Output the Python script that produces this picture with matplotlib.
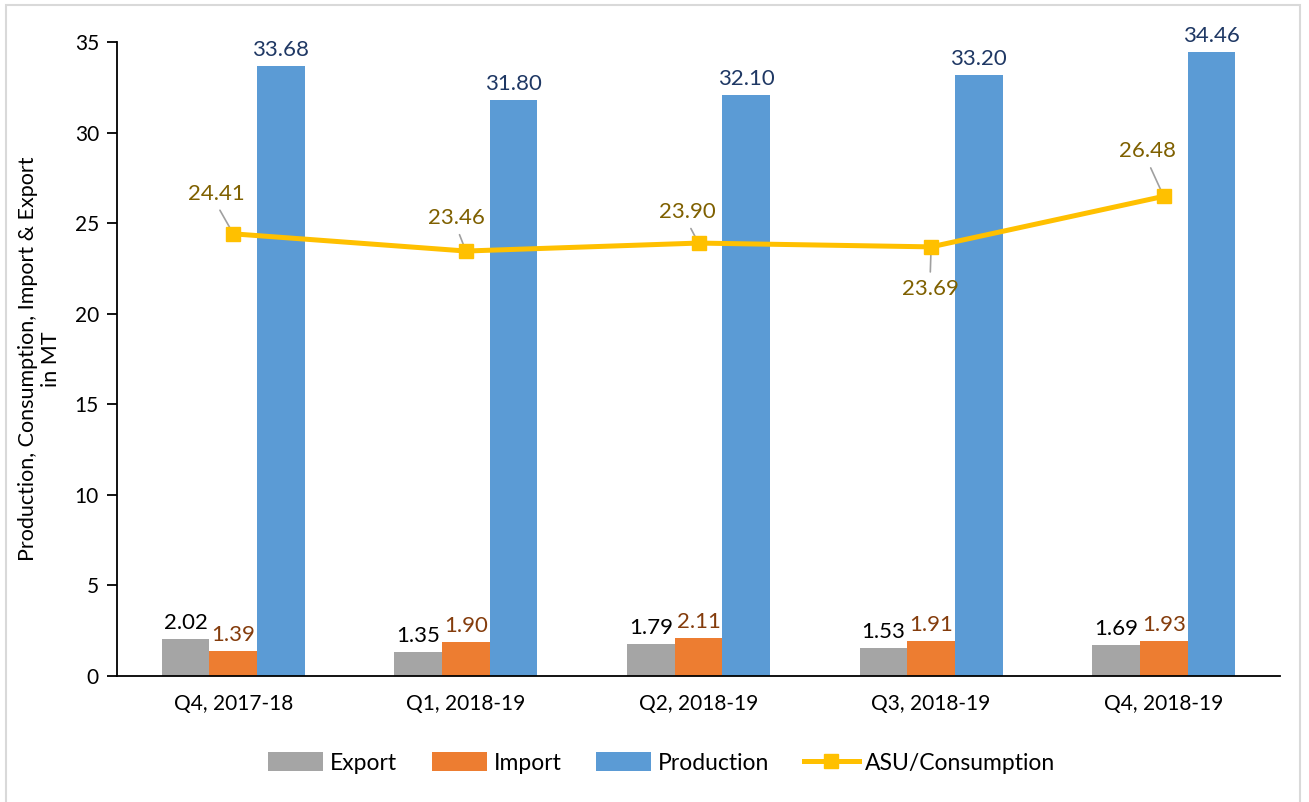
import matplotlib.pyplot as plt
import matplotlib.patches as mpatches
import numpy as np

categories = ["Q4, 2017-18", "Q1, 2018-19", "Q2, 2018-19", "Q3, 2018-19", "Q4, 2018-19"]
export = [2.02, 1.35, 1.79, 1.53, 1.69]
imports = [1.39, 1.90, 2.11, 1.91, 1.93]
production = [33.68, 31.80, 32.10, 33.20, 34.46]
consumption = [24.41, 23.46, 23.90, 23.69, 26.48]
# label offsets (pixels) for consumption labels
cons_offsets = [(-17, 40), (-9, 33), (-11, 31), (-1, -42), (-16, 45)]

plt.rcParams['font.family'] = ['Lato', 'DejaVu Sans']

fig = plt.figure(figsize=(13.09, 8.02), dpi=100)
ax = fig.add_axes([117/1309, 1 - 676/802, (1280-117)/1309, (676-42)/802])

x = np.arange(len(categories))
w = 0.205
c_exp, c_imp, c_prod, c_line = '#A5A5A5', '#ED7D31', '#5B9BD5', '#FFC000'

b1 = ax.bar(x - w, export, w, color=c_exp, label='Export')
b2 = ax.bar(x, imports, w, color=c_imp, label='Import')
b3 = ax.bar(x + w, production, w, color=c_prod, label='Production')
ln, = ax.plot(x, consumption, color=c_line, lw=3.6, marker='s', markersize=10,
              label='ASU/Consumption', zorder=5)

for bars, col in [(b1, 'black'), (b2, '#843C0C'), (b3, '#1F3864')]:
    for b in bars:
        h = b.get_height()
        ax.annotate(f"{h:.2f}", (b.get_x() + b.get_width()/2, h), xytext=(0, 6),
                    textcoords='offset pixels', ha='center', va='bottom',
                    fontsize=16, color=col)

for xi, v, (dx, dy) in zip(x, consumption, cons_offsets):
    rp = (0.5, 0) if dy > 0 else (0.5, 1)
    ax.annotate(f"{v:.2f}", (xi, v), xytext=(dx, dy), textcoords='offset pixels',
                ha='center', va='center', fontsize=16, color='#7F6000', zorder=4,
                arrowprops=dict(arrowstyle='-', color='#A0A0A0', lw=1.2,
                                relpos=rp, shrinkA=3, shrinkB=2))

ax.set_xlim(-0.5, 4.5)
ax.set_ylim(0, 35)
ax.set_yticks(range(0, 36, 5))
ax.set_xticks(x)
ax.set_xticklabels(categories)
ax.tick_params(axis='y', labelsize=15, length=7, width=1.3, pad=6)
ax.tick_params(axis='x', labelsize=15, length=0, pad=13)
ax.spines['top'].set_visible(False)
ax.spines['right'].set_visible(False)
ax.spines['left'].set_linewidth(1.3)
ax.spines['bottom'].set_linewidth(1.3)
ax.set_ylabel("Production, Consumption, Import & Export\nin MT", fontsize=15.5, labelpad=10)

fig.legend(handles=[b1, b2, b3, ln], loc='center', bbox_to_anchor=(662/1309, 1 - 763/802),
           ncol=4, frameon=False, fontsize=16.5, handlelength=2.4, handleheight=0.9,
           columnspacing=1.5, handletextpad=0.3)

fig.patches.append(mpatches.Rectangle((6/1309, -0.01), (1300-6)/1309, 1 - 5/802 + 0.01,
                                      transform=fig.transFigure, fill=False,
                                      edgecolor='#D9D9D9', lw=1.5))

fig.savefig("out.png", dpi=100)
